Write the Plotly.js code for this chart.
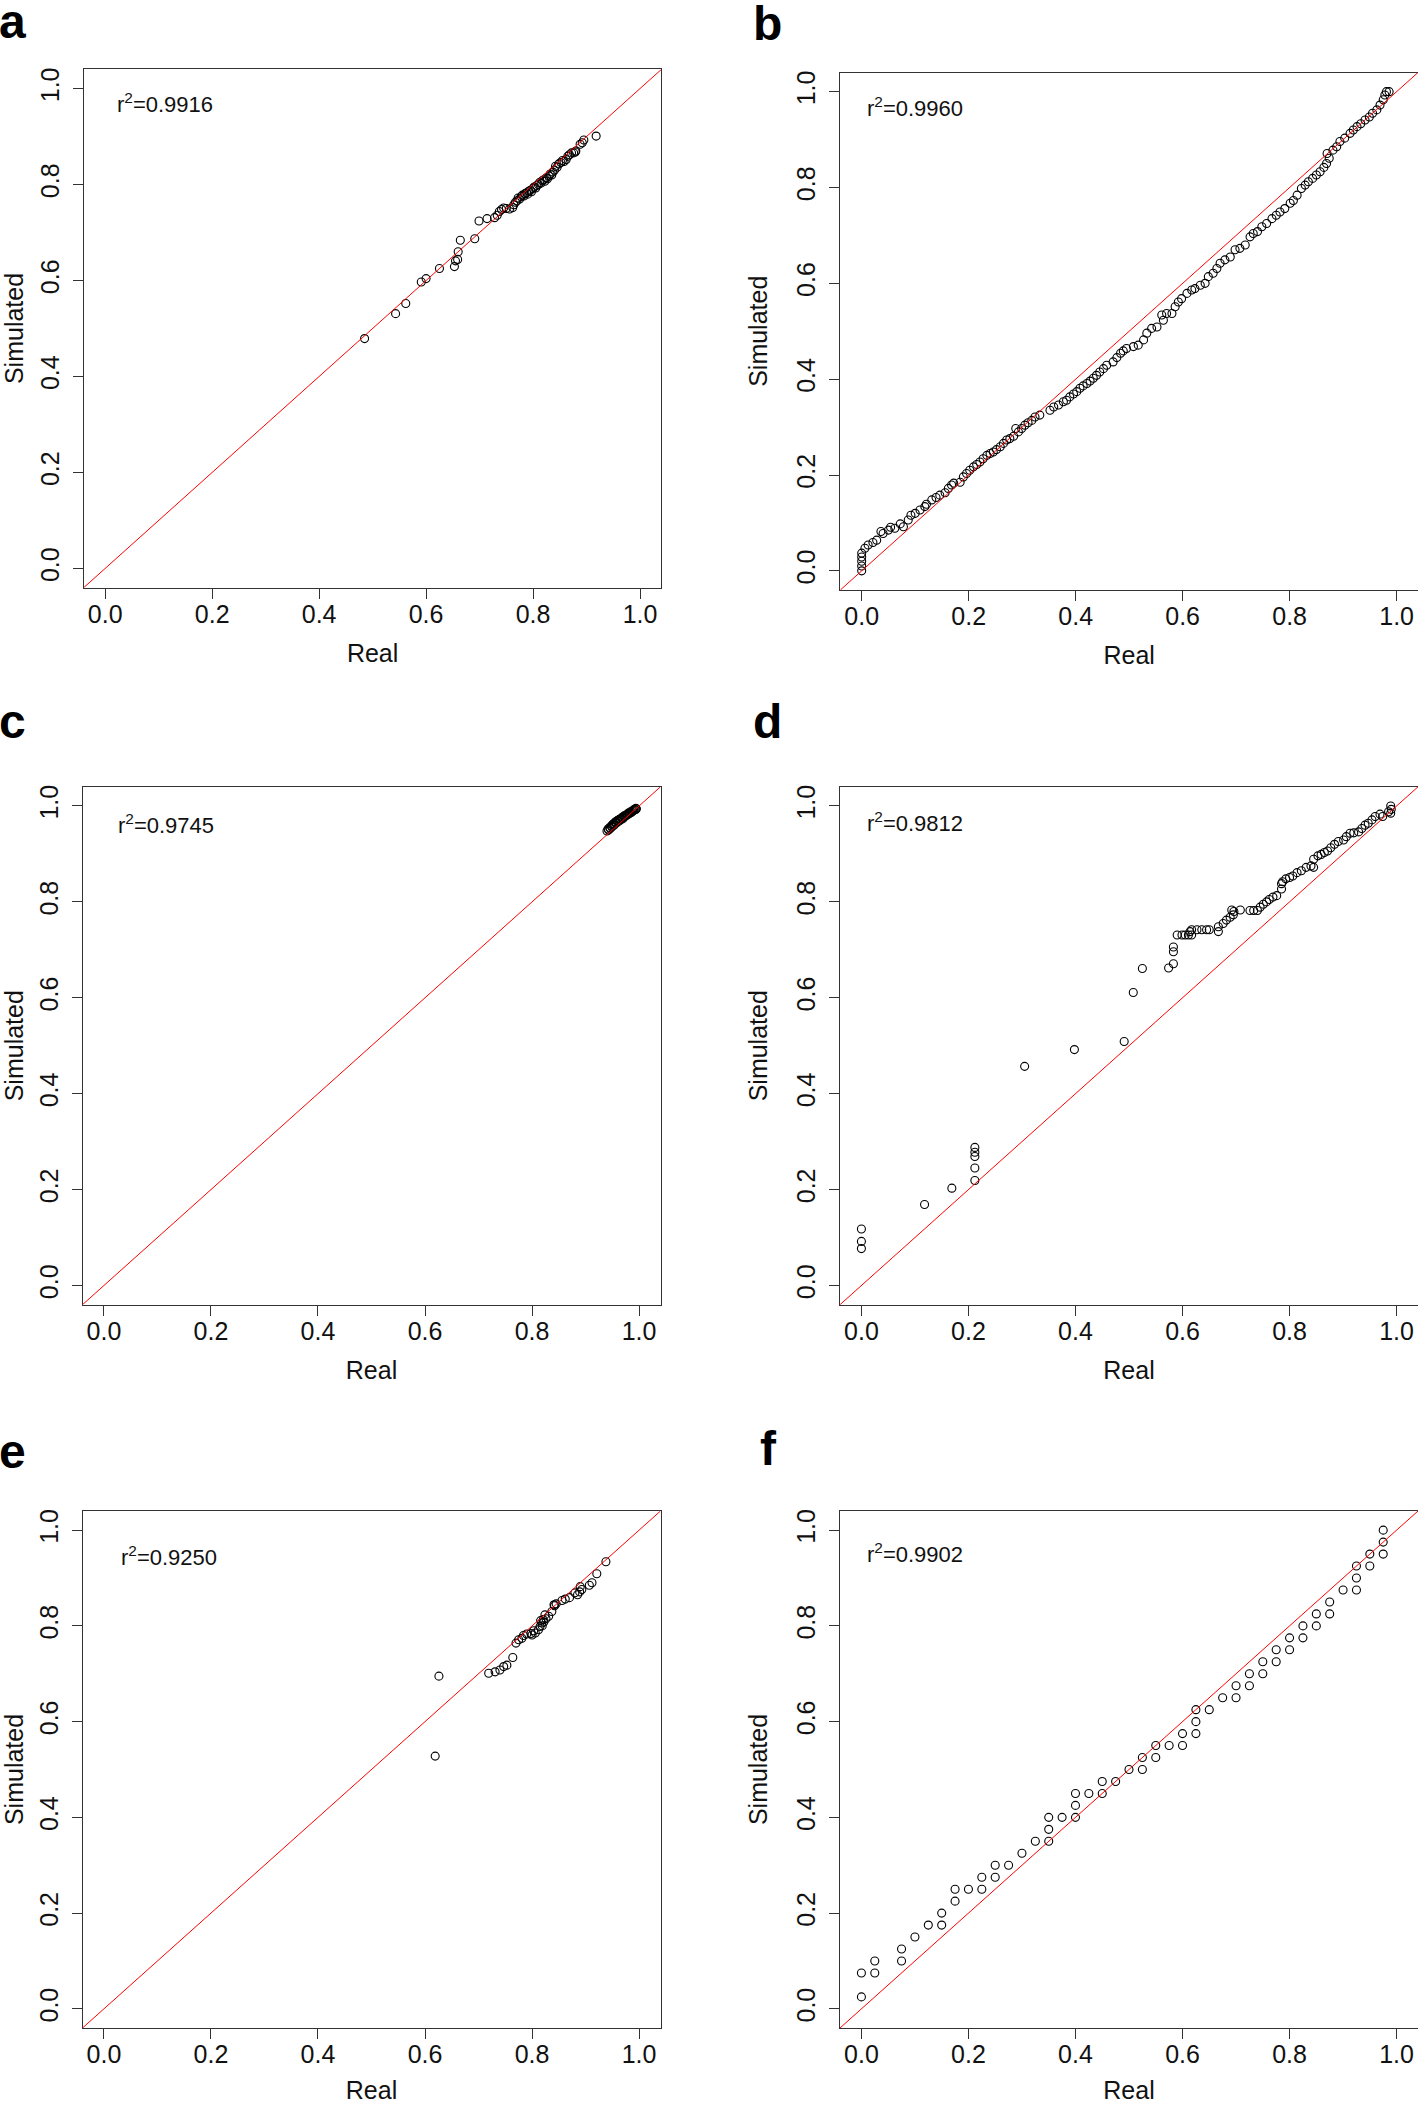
<!DOCTYPE html>
<html>
<head>
<meta charset="utf-8">
<script src="https://cdn.plot.ly/plotly-3.0.1.min.js"></script>
<style>html,body{margin:0;padding:0;background:#fff;}#chart{width:1418px;height:2104px;}</style>
</head>
<body>
<div id="chart"></div>
<script>
// ---------------- DATA ----------------
const panelLetters = ['a', 'b', 'c', 'd', 'e', 'f'];
const r2Values = ['0.9916', '0.9960', '0.9745', '0.9812', '0.9250', '0.9902'];
const tickVals = [0, 0.2, 0.4, 0.6, 0.8, 1.0];
const tickText = ['0.0', '0.2', '0.4', '0.6', '0.8', '1.0'];
const xTitle = 'Real';
const yTitle = 'Simulated';

const realA = [0.485,0.543,0.562,0.591,0.600,0.625,0.653,0.655,0.659,0.660,0.664,0.691,0.699,0.714,0.728,0.733,0.737,0.741,0.745,0.750,0.756,0.762,0.764,0.767,0.770,0.772,0.775,0.778,0.780,0.783,0.785,0.788,0.790,0.792,0.795,0.797,0.800,0.802,0.805,0.807,0.810,0.812,0.815,0.817,0.820,0.822,0.825,0.827,0.830,0.832,0.835,0.837,0.840,0.842,0.845,0.848,0.852,0.855,0.858,0.862,0.865,0.868,0.872,0.876,0.879,0.880,0.888,0.892,0.895,0.918];
const simA  = [0.479,0.531,0.552,0.597,0.604,0.625,0.629,0.641,0.644,0.660,0.684,0.687,0.724,0.729,0.731,0.736,0.744,0.748,0.751,0.750,0.749,0.752,0.758,0.763,0.766,0.772,0.770,0.775,0.778,0.776,0.781,0.783,0.780,0.786,0.788,0.785,0.792,0.795,0.793,0.798,0.800,0.804,0.803,0.808,0.810,0.807,0.814,0.812,0.818,0.822,0.820,0.826,0.830,0.838,0.836,0.843,0.846,0.850,0.848,0.852,0.859,0.862,0.866,0.866,0.868,0.870,0.884,0.887,0.893,0.901];

const realB = [0,0,0,0,0,0.006,0.012,0.021,0.028,0.036,0.040,0.050,0.054,0.062,0.072,0.078,0.087,0.092,0.100,0.109,0.118,0.121,0.131,0.139,0.146,0.156,0.162,0.168,0.172,0.184,0.190,0.196,0.202,0.209,0.215,0.221,0.227,0.234,0.240,0.246,0.252,0.259,0.265,0.271,0.277,0.284,0.288,0.293,0.299,0.305,0.311,0.318,0.324,0.333,0.352,0.359,0.368,0.377,0.383,0.389,0.396,0.402,0.408,0.414,0.421,0.427,0.433,0.439,0.445,0.452,0.458,0.470,0.477,0.484,0.489,0.495,0.508,0.517,0.527,0.533,0.542,0.552,0.561,0.564,0.570,0.580,0.586,0.592,0.598,0.608,0.617,0.623,0.633,0.642,0.648,0.657,0.664,0.670,0.679,0.689,0.698,0.707,0.717,0.726,0.732,0.740,0.748,0.757,0.767,0.775,0.782,0.791,0.801,0.807,0.814,0.822,0.829,0.835,0.843,0.850,0.857,0.864,0.869,0.870,0.874,0.881,0.888,0.894,0.903,0.913,0.919,0.926,0.933,0.941,0.949,0.955,0.963,0.969,0.975,0.978,0.981,0.986];
const simB  = [0.000,0.010,0.020,0.029,0.037,0.047,0.054,0.059,0.064,0.082,0.078,0.085,0.091,0.089,0.098,0.092,0.106,0.116,0.120,0.127,0.134,0.139,0.148,0.153,0.158,0.163,0.172,0.179,0.183,0.185,0.196,0.203,0.210,0.217,0.222,0.227,0.234,0.241,0.245,0.248,0.253,0.259,0.266,0.273,0.276,0.281,0.297,0.290,0.297,0.304,0.309,0.314,0.321,0.325,0.335,0.342,0.346,0.353,0.356,0.363,0.369,0.374,0.381,0.386,0.391,0.396,0.402,0.408,0.415,0.422,0.429,0.436,0.445,0.454,0.459,0.464,0.468,0.471,0.482,0.496,0.506,0.509,0.534,0.523,0.537,0.537,0.551,0.561,0.568,0.579,0.586,0.589,0.596,0.600,0.614,0.621,0.631,0.642,0.649,0.655,0.670,0.673,0.680,0.697,0.704,0.708,0.718,0.725,0.735,0.742,0.749,0.756,0.767,0.773,0.784,0.798,0.805,0.812,0.819,0.826,0.833,0.842,0.850,0.871,0.861,0.878,0.885,0.896,0.903,0.913,0.920,0.927,0.933,0.941,0.947,0.955,0.962,0.972,0.983,0.993,1.000,1.000];

const realC = [0.940,0.942,0.943,0.945,0.946,0.948,0.949,0.950,0.952,0.953,0.955,0.956,0.957,0.959,0.960,0.962,0.963,0.965,0.966,0.968,0.969,0.970,0.972,0.973,0.975,0.976,0.978,0.979,0.980,0.982,0.983,0.984,0.986,0.987,0.988,0.990,0.991,0.993,0.994,0.995];
const simC  = [0.948,0.952,0.950,0.955,0.953,0.958,0.956,0.961,0.963,0.960,0.965,0.967,0.964,0.969,0.970,0.968,0.972,0.973,0.971,0.975,0.977,0.974,0.978,0.980,0.979,0.981,0.983,0.982,0.985,0.984,0.986,0.988,0.987,0.989,0.990,0.991,0.993,0.992,0.995,0.994];

const realD = [0,0,0,0.118,0.169,0.212,0.212,0.212,0.212,0.212,0.305,0.398,0.491,0.508,0.525,0.574,0.583,0.583,0.583,0.590,0.599,0.605,0.611,0.617,0.614,0.617,0.627,0.636,0.645,0.650,0.667,0.667,0.676,0.682,0.689,0.692,0.695,0.696,0.708,0.726,0.733,0.740,0.745,0.751,0.757,0.762,0.769,0.776,0.785,0.785,0.787,0.793,0.800,0.806,0.814,0.822,0.831,0.840,0.845,0.845,0.853,0.859,0.865,0.871,0.877,0.884,0.891,0.901,0.906,0.913,0.920,0.929,0.935,0.941,0.947,0.954,0.960,0.969,0.974,0.985,0.989,0.989,0.990];
const simD  = [0.118,0.092,0.077,0.169,0.203,0.288,0.278,0.269,0.245,0.219,0.457,0.492,0.509,0.611,0.661,0.662,0.671,0.696,0.706,0.731,0.731,0.731,0.731,0.731,0.738,0.742,0.742,0.742,0.742,0.742,0.738,0.748,0.755,0.762,0.768,0.783,0.773,0.780,0.783,0.782,0.782,0.782,0.789,0.795,0.800,0.805,0.810,0.813,0.827,0.838,0.842,0.848,0.851,0.854,0.861,0.865,0.872,0.875,0.889,0.872,0.896,0.899,0.903,0.906,0.913,0.920,0.926,0.929,0.936,0.943,0.944,0.946,0.953,0.960,0.964,0.971,0.978,0.983,0.978,0.988,1.000,0.985,0.993];

const realE = [0.619,0.626,0.719,0.731,0.740,0.747,0.753,0.764,0.770,0.775,0.781,0.784,0.790,0.798,0.800,0.806,0.803,0.812,0.815,0.818,0.821,0.816,0.819,0.822,0.824,0.826,0.831,0.837,0.841,0.842,0.845,0.856,0.862,0.870,0.880,0.885,0.889,0.890,0.893,0.907,0.912,0.921,0.938];
const simE  = [0.528,0.695,0.701,0.704,0.708,0.715,0.718,0.734,0.764,0.771,0.774,0.780,0.783,0.784,0.781,0.785,0.790,0.792,0.799,0.806,0.813,0.811,0.800,0.808,0.823,0.815,0.820,0.830,0.844,0.842,0.846,0.853,0.856,0.859,0.869,0.865,0.871,0.882,0.876,0.885,0.890,0.909,0.934];

const realF = [0,0,0.025,0.025,0.075,0.075,0.1,0.125,0.15,0.15,0.175,0.175,0.2,0.225,0.225,0.25,0.25,0.275,0.3,0.325,0.35,0.35,0.35,0.375,0.4,0.4,0.4,0.425,0.45,0.45,0.475,0.5,0.525,0.525,0.55,0.55,0.575,0.6,0.6,0.625,0.625,0.625,0.65,0.675,0.7,0.7,0.725,0.725,0.75,0.75,0.775,0.775,0.8,0.8,0.825,0.825,0.85,0.85,0.875,0.875,0.9,0.925,0.925,0.925,0.95,0.95,0.975,0.975,0.975];
const simF  = [0.075,0.025,0.1,0.075,0.125,0.1,0.15,0.175,0.2,0.175,0.25,0.225,0.25,0.275,0.25,0.3,0.275,0.3,0.325,0.35,0.4,0.375,0.35,0.4,0.45,0.425,0.4,0.45,0.475,0.45,0.475,0.5,0.525,0.5,0.55,0.525,0.55,0.575,0.55,0.625,0.6,0.575,0.625,0.65,0.675,0.65,0.7,0.675,0.725,0.7,0.75,0.725,0.775,0.75,0.8,0.775,0.825,0.8,0.85,0.825,0.875,0.925,0.9,0.875,0.95,0.925,1.0,0.975,0.95];

// ---------------- LAYOUT / STYLE ----------------
const W = 1418, H = 2104;
const fam = '"Liberation Sans", Arial, Helvetica, sans-serif';
const realSets = [realA, realB, realC, realD, realE, realF];
const simSets = [simA, simB, simC, simD, simE, simF];
const boxes = [
  {l: 83.8, r: 661.4, t: 69.4, b: 587.6},
  {l: 840.3, r: 1418, t: 72.5, b: 590},
  {l: 82.5, r: 660.5, t: 786.8, b: 1304.7},
  {l: 840, r: 1418, t: 786.8, b: 1304.7},
  {l: 82.5, r: 660.5, t: 1511, b: 2028},
  {l: 840, r: 1418, t: 1511, b: 2028}
];
const letterPos = [{x: -3, y: 22}, {x: 751, y: 23}, {x: -3, y: 722}, {x: 751, y: 721}, {x: -3, y: 1451}, {x: 758, y: 1448}];
const r2Pos = [{x: 0.018, y: 0.969}, {x: 0.007, y: 0.967}, {x: 0.023, y: 0.963}, {x: 0.007, y: 0.966}, {x: 0.028, y: 0.947}, {x: 0.007, y: 0.953}];

const traces = [], shapes = [], annotations = [];
const layout = {
  width: W, height: H,
  margin: {l: 0, r: 0, t: 0, b: 0, pad: 0},
  paper_bgcolor: '#ffffff', plot_bgcolor: '#ffffff',
  showlegend: false,
  font: {family: fam, color: '#000'}
};

for (let i = 0; i < 6; i++) {
  const k = i === 0 ? '' : String(i + 1);
  const bx = boxes[i];
  traces.push({
    type: 'scatter', mode: 'markers',
    x: realSets[i], y: simSets[i],
    xaxis: 'x' + k, yaxis: 'y' + k,
    marker: {symbol: 'circle-open', size: 8, color: '#000', line: {width: 1.1, color: '#000'}},
    hoverinfo: 'skip'
  });
  const common = {
    range: [-0.04, 1.04],
    showline: true, mirror: true, linecolor: '#333', linewidth: 1,
    ticks: 'outside', ticklen: 10, tickwidth: 1, tickcolor: '#333',
    tickmode: 'array', tickvals: tickVals, ticktext: tickText,
    showgrid: false, zeroline: false, fixedrange: true,
    tickfont: {family: fam, size: 25, color: '#111'}
  };
  layout['xaxis' + k] = Object.assign({}, common, {
    domain: [bx.l / W, bx.r / W], anchor: 'y' + k,
    ticklabelstandoff: -6,
    title: {text: xTitle, font: {family: fam, size: 25, color: '#111'}, standoff: 17}
  });
  layout['yaxis' + k] = Object.assign({}, common, {
    domain: [1 - bx.b / H, 1 - bx.t / H], anchor: 'x' + k,
    tickangle: -90,
    ticklabelstandoff: 4,
    title: {text: yTitle, font: {family: fam, size: 25, color: '#111'}, standoff: 17}
  });
  shapes.push({
    type: 'line', xref: 'x' + k, yref: 'y' + k,
    x0: -0.04, y0: -0.04, x1: 1.04, y1: 1.04,
    line: {color: '#ff0000', width: 1}, layer: 'above'
  });
  annotations.push({
    xref: 'x' + k, yref: 'y' + k, x: r2Pos[i].x, y: r2Pos[i].y,
    xanchor: 'left', yanchor: 'middle', showarrow: false,
    text: 'r<sup>2</sup>=' + r2Values[i],
    font: {family: fam, size: 22, color: '#111'}
  });
  annotations.push({
    xref: 'paper', yref: 'paper', x: letterPos[i].x / W, y: 1 - letterPos[i].y / H,
    xanchor: 'left', yanchor: 'middle', showarrow: false,
    text: '<b>' + panelLetters[i] + '</b>',
    font: {family: fam, size: 48, color: '#000'}
  });
}
layout.shapes = shapes;
layout.annotations = annotations;

Plotly.newPlot('chart', traces, layout, {staticPlot: true, displayModeBar: false});
</script>
</body>
</html>
